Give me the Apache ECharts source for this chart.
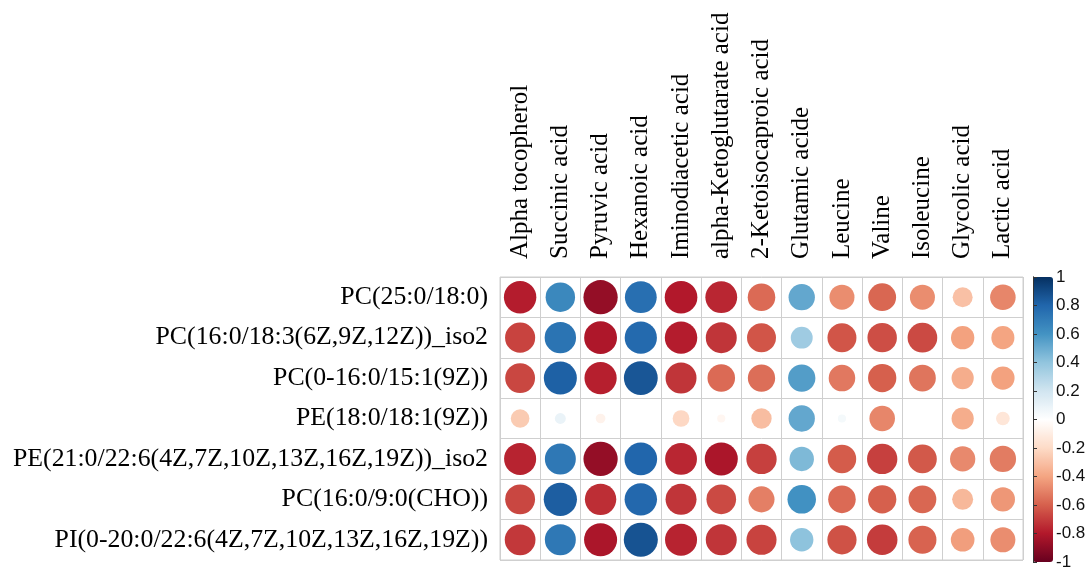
<!DOCTYPE html>
<html>
<head>
<meta charset="utf-8">
<script src="https://cdn.jsdelivr.net/npm/echarts@6/dist/echarts.min.js"></script>
<style>
html,body{margin:0;padding:0;background:#fff;}
#chart{width:1090px;height:572px;}
</style>
</head>
<body>
<div id="chart"></div>
<script>
// Column (metabolite) categories
const metabolites = ['Alpha tocopherol','Succinic acid','Pyruvic acid','Hexanoic acid','Iminodiacetic acid','alpha-Ketoglutarate acid','2-Ketoisocaproic acid','Glutamic acide','Leucine','Valine','Isoleucine','Glycolic acid','Lactic acid'];
// Row (lipid) categories
const lipids = ['PC(25:0/18:0)','PC(16:0/18:3(6Z,9Z,12Z))_iso2','PC(0-16:0/15:1(9Z))','PE(18:0/18:1(9Z))','PE(21:0/22:6(4Z,7Z,10Z,13Z,16Z,19Z))_iso2','PC(16:0/9:0(CHO))','PI(0-20:0/22:6(4Z,7Z,10Z,13Z,16Z,19Z))'];
// Correlation values, one array per row
const rowPC25 =      [-0.79, 0.65, -0.88, 0.76, -0.80, -0.76, -0.57, 0.52, -0.47, -0.58, -0.47, -0.30, -0.49];
const rowPC16_18 =   [-0.68, 0.74, -0.81, 0.78, -0.79, -0.72, -0.63, 0.36, -0.63, -0.65, -0.66, -0.41, -0.40];
const rowPC0_16 =    [-0.67, 0.82, -0.78, 0.86, -0.72, -0.57, -0.56, 0.56, -0.53, -0.60, -0.54, -0.37, -0.41];
const rowPE18 =      [-0.26, 0.09, -0.07, 0.00, -0.21, -0.05, -0.31, 0.52, 0.05, -0.49, 0.00, -0.37, -0.14];
const rowPE21 =      [-0.77, 0.72, -0.88, 0.80, -0.76, -0.82, -0.69, 0.45, -0.61, -0.69, -0.62, -0.48, -0.52];
const rowPC16_9 =    [-0.67, 0.83, -0.74, 0.79, -0.72, -0.66, -0.51, 0.61, -0.57, -0.60, -0.58, -0.33, -0.44];
const rowPI0_20 =    [-0.71, 0.72, -0.82, 0.87, -0.77, -0.72, -0.68, 0.41, -0.64, -0.70, -0.59, -0.42, -0.47];
const valueRows = [rowPC25, rowPC16_18, rowPC0_16, rowPE18, rowPE21, rowPC16_9, rowPI0_20];
// Colorbar tick labels
const barTicks = [-1,-0.8,-0.6,-0.4,-0.2,0,0.2,0.4,0.6,0.8,1];

const palette = ['#67001F','#B2182B','#D6604D','#F4A582','#FDDBC7','#FFFFFF','#D1E5F0','#92C5DE','#4393C3','#2166AC','#053061'];

const data = [];
valueRows.forEach((row, ri) => row.forEach((v, ci) => data.push([ci, ri, v])));

const GRID = {left: 500, top: 277, width: 523, height: 283};
const MAXD = 36.5;
const serif = 'Liberation Serif, Times New Roman, serif';

const chart = echarts.init(document.getElementById('chart'), null, {renderer: 'canvas'});
chart.setOption({
  backgroundColor: '#fff',
  animation: false,
  grid: [
    {left: GRID.left, top: GRID.top, width: GRID.width, height: GRID.height, show: true, borderColor: '#cfcfcf', borderWidth: 1},
    {left: 1033, top: 277, width: 20, height: 285, show: false}
  ],
  xAxis: [
    {
      type: 'category', gridIndex: 0, position: 'top', data: metabolites,
      axisLine: {show: false}, axisTick: {show: false},
      splitLine: {show: true, interval: 0, lineStyle: {color: '#cfcfcf', width: 1}},
      axisLabel: {rotate: -90, interval: 0, margin: 18, fontFamily: serif, fontSize: 25, color: '#000'}
    },
    {type: 'value', gridIndex: 1, show: false, min: 0, max: 1}
  ],
  yAxis: [
    {
      type: 'category', gridIndex: 0, inverse: true, data: lipids,
      axisLine: {show: false}, axisTick: {show: false},
      splitLine: {show: true, interval: 0, lineStyle: {color: '#cfcfcf', width: 1}},
      axisLabel: {interval: 0, margin: 12, fontFamily: serif, fontSize: 25.8, color: '#000'}
    },
    {
      type: 'value', gridIndex: 1, position: 'right', min: -1, max: 1, interval: 0.2, z: 10,
      axisLine: {show: true, lineStyle: {color: '#333', width: 1}},
      axisTick: {show: true, length: 4, lineStyle: {color: '#333'}},
      splitLine: {show: false},
      axisLabel: {margin: 3, fontFamily: 'Liberation Sans, Arial, sans-serif', fontSize: 17, color: '#111',
        formatter: v => { const t = barTicks.find(b => Math.abs(b - v) < 1e-6); return t === undefined ? '' : String(t); }}
    },
    {
      type: 'value', gridIndex: 1, position: 'left', min: -1, max: 1, interval: 0.2, z: 10,
      axisLine: {show: true, lineStyle: {color: '#333', width: 1}},
      axisTick: {show: false}, axisLabel: {show: false}, splitLine: {show: false}
    }
  ],
  visualMap: {
    type: 'continuous', min: -1, max: 1, dimension: 2, seriesIndex: 0,
    calculable: false, realtime: false, text: null, showLabel: false,
    orient: 'vertical', left: 1033, top: 277, padding: 0,
    itemWidth: 20, itemHeight: 285,
    inRange: {color: palette}
  },
  series: [{
    type: 'scatter', xAxisIndex: 0, yAxisIndex: 0,
    data: data,
    symbol: 'circle',
    symbolSize: v => MAXD * Math.sqrt(Math.abs(v[2])),
    itemStyle: {opacity: 1},
    silent: true
  }]
});
</script>
</body>
</html>
